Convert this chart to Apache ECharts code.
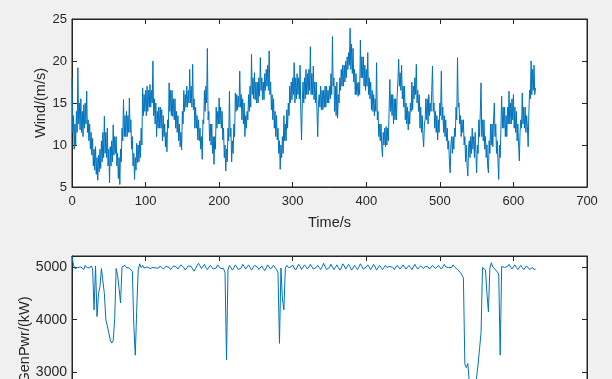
<!DOCTYPE html>
<html>
<head>
<meta charset="utf-8">
<script src="https://cdn.jsdelivr.net/npm/echarts@6/dist/echarts.min.js"></script>
<style>
  html, body { margin: 0; padding: 0; background: #f0f0f0; }
  #main { width: 612px; height: 379px; }
</style>
</head>
<body>
<div id="main"></div>
<script>
// wind speed, one value per second from t = 0
var windStep = 1;
var wind = [
  18.0, 11.5, 13.5, 9.5, 12.5, 10.0, 14.0, 11.5, 19.2, 12.5,
  15.0, 11.8, 15.5, 11.5, 14.0, 11.0, 14.8, 12.0, 15.0, 12.5,
  16.4, 11.5, 13.0, 10.5, 12.5, 9.5, 11.5, 8.8, 10.8, 7.5,
  9.5, 7.0, 9.8, 6.5, 8.5, 5.8, 8.8, 6.8, 9.5, 7.2,
  10.5, 8.0, 11.5, 8.5, 13.4, 9.0, 11.5, 8.5, 12.0, 7.5,
  9.5, 5.5, 9.8, 7.5, 10.5, 8.0, 12.4, 8.8, 11.0, 9.0,
  11.0, 7.5, 9.0, 6.0, 8.5, 5.3, 9.5, 8.0, 12.0, 10.5,
  15.4, 11.0, 13.5, 11.0, 14.0, 11.0, 13.5, 11.5, 15.6, 11.5,
  13.0, 9.5, 11.0, 7.5, 9.0, 5.9, 8.5, 7.0, 10.2, 7.9,
  10.0, 8.0, 10.5, 8.5, 12.0, 10.0, 16.8, 13.5, 16.0, 14.0,
  16.5, 13.5, 17.0, 14.0, 16.5, 14.5, 17.2, 14.5, 16.5, 15.0,
  20.0, 13.5, 15.5, 12.5, 15.0, 11.0, 14.0, 12.0, 14.5, 12.0,
  14.5, 12.0, 14.2, 10.5, 13.5, 11.0, 12.5, 9.8, 11.5, 9.2,
  13.0, 12.0, 17.4, 14.0, 16.5, 13.5, 16.5, 13.4, 15.5, 13.0,
  15.5, 12.0, 14.0, 11.5, 13.5, 10.5, 12.5, 9.8, 11.5, 9.4,
  14.0, 12.5, 16.5, 14.0, 16.0, 14.5, 17.0, 14.5, 16.5, 15.0,
  19.0, 15.0, 17.0, 14.5, 19.6, 14.2, 15.5, 12.0, 14.5, 12.0,
  13.5, 10.6, 13.0, 10.5, 12.0, 9.5, 11.0, 8.3, 13.0, 12.5,
  16.5, 14.0, 17.0, 15.0, 21.5, 13.0, 14.0, 10.5, 12.5, 10.0,
  12.5, 9.0, 11.0, 7.7, 11.0, 9.5, 14.5, 12.0, 14.0, 12.5,
  15.6, 12.5, 14.5, 12.0, 14.0, 10.6, 12.0, 8.5, 10.0, 6.9,
  9.5, 8.0, 12.0, 10.5, 16.4, 11.0, 12.0, 8.0, 10.5, 9.0,
  12.5, 11.0, 16.2, 14.0, 16.0, 14.2, 15.8, 14.5, 18.8, 14.5,
  16.0, 13.0, 15.5, 12.5, 15.0, 11.0, 13.5, 12.0, 14.0, 13.0,
  16.0, 14.0, 17.0, 14.5, 20.8, 16.0, 18.0, 15.5, 18.6, 15.4,
  17.5, 15.0, 17.5, 15.0, 18.0, 15.8, 20.4, 16.5, 18.0, 15.4,
  17.5, 15.4, 18.5, 16.5, 19.0, 17.0, 19.5, 16.5, 21.2, 16.0,
  17.5, 14.2, 16.0, 13.0, 15.5, 12.0, 14.0, 11.0, 13.5, 10.6,
  12.0, 9.0, 10.5, 7.1, 10.0, 8.5, 11.0, 9.0, 13.5, 10.5,
  12.5, 10.5, 14.2, 12.0, 15.0, 13.5, 17.0, 15.0, 17.5, 15.4,
  18.0, 16.0, 19.8, 15.0, 18.0, 15.5, 18.5, 16.0, 18.0, 15.5,
  19.5, 14.0, 10.6, 15.0, 17.5, 15.0, 18.0, 15.5, 19.0, 16.0,
  18.5, 16.0, 19.0, 16.5, 21.7, 16.0, 18.5, 16.0, 19.4, 15.4,
  17.5, 15.0, 17.5, 14.0, 11.0, 15.0, 16.0, 14.5, 17.0, 14.2,
  16.5, 14.2, 16.5, 14.5, 17.0, 14.5, 17.0, 15.0, 16.5, 15.0,
  17.0, 15.5, 18.5, 16.0, 22.9, 17.0, 18.0, 14.0, 17.0, 13.5,
  17.5, 13.2, 16.0, 15.0, 18.0, 16.5, 19.0, 17.0, 19.5, 17.0,
  19.5, 17.5, 20.0, 18.0, 20.5, 19.0, 21.0, 19.5, 23.9, 19.0,
  22.0, 18.5, 21.5, 17.5, 19.0, 16.0, 18.5, 16.0, 17.4, 15.8,
  17.5, 16.0, 22.5, 18.0, 20.5, 18.0, 20.5, 17.0, 19.5, 16.5,
  19.0, 17.0, 21.0, 16.0, 18.0, 15.5, 17.5, 14.2, 16.5, 14.0,
  16.0, 13.5, 15.5, 14.0, 19.8, 13.0, 14.0, 11.0, 12.5, 10.5,
  12.5, 9.8, 8.6, 11.5, 10.0, 12.0, 9.8, 12.2, 10.0, 12.0,
  10.5, 14.0, 17.8, 14.0, 16.0, 13.5, 16.0, 12.5, 15.5, 13.0,
  15.5, 13.0, 16.0, 17.5, 20.2, 17.0, 18.6, 16.5, 19.5, 15.5,
  17.0, 14.5, 17.0, 13.0, 15.0, 12.5, 14.5, 11.8, 14.0, 12.5,
  15.0, 14.0, 17.5, 14.2, 17.0, 15.5, 18.0, 16.0, 19.6, 15.0,
  16.5, 14.0, 16.0, 12.0, 14.5, 11.5, 13.5, 11.0, 9.8, 12.5,
  13.0, 15.5, 13.0, 15.5, 12.5, 16.0, 13.5, 15.0, 14.0, 16.5,
  19.4, 14.0, 15.0, 12.0, 14.0, 11.5, 13.5, 10.6, 13.0, 11.5,
  15.0, 13.5, 18.8, 13.0, 14.5, 11.5, 13.5, 11.0, 13.0, 10.5,
  12.0, 9.5, 10.5, 8.0, 6.7, 10.0, 11.0, 9.0, 11.0, 9.5,
  12.0, 11.0, 14.5, 13.0, 20.4, 14.5, 15.0, 12.5, 13.5, 11.0,
  13.0, 11.5, 13.0, 10.0, 11.0, 8.0, 10.0, 7.5, 6.3, 9.5,
  10.5, 8.5, 11.0, 9.0, 12.0, 9.5, 11.0, 8.5, 11.5, 9.0,
  6.7, 10.0, 9.0, 13.0, 11.0, 14.0, 17.4, 11.0, 13.0, 10.5,
  13.0, 9.5, 11.0, 8.5, 10.0, 7.5, 6.7, 10.5, 9.0, 12.5,
  10.0, 12.5, 9.8, 13.0, 15.0, 11.0, 12.5, 9.0, 10.5, 8.0,
  5.9, 10.0, 8.5, 12.0, 15.8, 12.0, 14.5, 12.0, 14.5, 11.0,
  13.5, 11.0, 14.5, 12.5, 16.4, 12.5, 15.0, 12.5, 15.5, 13.0,
  16.0, 12.0, 14.5, 11.5, 14.0, 10.5, 12.5, 10.0, 8.1, 11.5,
  13.0, 12.0, 16.2, 12.5, 14.5, 12.0, 14.5, 11.5, 13.5, 12.2,
  9.8, 14.0, 16.5, 15.5, 20.0, 16.0, 19.0, 16.5, 19.5, 16.0,
  16.8
];

// generator power, one value every 2 s from t = 0
var powerStep = 2;
var power = [
  5210, 5050, 4980, 4960, 5000, 4970, 5010, 4990, 4960, 5040,
  5000, 4970, 4990, 5030, 4980, 4190, 5030, 4060, 4500, 4640,
  4980, 4990, 4500, 4000, 3880, 3750, 3610, 3550, 3600, 4000,
  4980, 4850, 4600, 4320, 5010, 5030, 5040, 5000, 4980, 4990,
  4960, 4920, 3900, 3320, 4200, 4950, 5070, 5000, 5040, 4990,
  4960, 5010, 5030, 4980, 4970, 5000, 5020, 4990, 4960, 4990,
  5030, 5010, 4970, 4980, 5020, 5040, 5000, 4960, 4980, 5030,
  5060, 5010, 4970, 4990, 5050, 5070, 5000, 4950, 4980, 5030,
  5060, 5020, 4970, 4930, 4980, 5040, 5080, 5030, 4980, 5010,
  5060, 5000, 4960, 4990, 5040, 5020, 4970, 4940, 4990, 5050,
  5020, 4980, 5000, 4980, 4900, 3230, 4950, 5040, 5000, 4950,
  4990, 5050, 5010, 4960, 4940, 4990, 5060, 5020, 4970, 5000,
  5050, 5000, 4950, 4980, 5040, 5070, 5010, 4960, 4990, 5030,
  4980, 4940, 4990, 5050, 5020, 4970, 4990, 5040, 5000, 4960,
  4900, 3545, 4990, 4400, 4190, 4990, 5040, 5000, 4970, 5010,
  5050, 4990, 4950, 5000, 5060, 5020, 4960, 4990, 5050, 5010,
  4970, 5000, 5060, 5030, 4970, 4950, 5000, 5040, 5000, 4960,
  5010, 5080, 5020, 4960, 4940, 5000, 5060, 5010, 4960, 5000,
  5050, 5000, 4950, 4990, 5070, 5030, 4970, 5000, 5060, 5010,
  4950, 4990, 5040, 5000, 4960, 5010, 5070, 5020, 4970, 4950,
  5010, 5050, 5010, 4960, 4990, 5060, 5010, 4950, 4980, 5040,
  5000, 4960, 5000, 5040, 5000, 4970, 5020, 5050, 5000, 4960,
  4990, 5040, 5010, 4970, 5000, 5050, 5020, 4970, 4990, 5040,
  5000, 4960, 5010, 5060, 5010, 4970, 5000, 5030, 5000, 4980,
  5020, 5050, 5010, 4970, 4990, 5040, 5010, 4980, 5000, 5040,
  5010, 4970, 5010, 5060, 5010, 4980, 5000, 5030, 5000, 5050,
  5010, 4990, 4960, 4940, 4900, 4850, 4800, 3150, 3080, 3160,
  2800, 2650, 2600, 2620, 2700, 2900, 3150, 3450, 3750, 5000,
  5030, 4950, 4500, 4150, 4990, 5090, 5010, 4980, 4950, 4930,
  4880, 3320, 5020, 4990, 5000, 4970, 5020, 5060, 5010, 4970,
  4990, 5050, 5000, 4960, 4990, 5040, 5000, 4960, 4980, 5030,
  5010, 4960, 4990, 5000, 4960, 4970
];

var axisColor = "#262626";
var font = "Liberation Sans, Arial, Helvetica, sans-serif";

function plain(v) {
  return String(v);
}

function xAx(grid, pos, labels, name) {
  return {
    type: "value",
    gridIndex: grid,
    position: pos,
    min: 0,
    max: 700,
    interval: 100,
    name: name || "",
    nameLocation: "middle",
    nameGap: 28,
    nameMoveOverlap: false,
    nameTextStyle: { color: axisColor, fontSize: 14.5, fontFamily: font },
    axisLine: { show: true, onZero: false, lineStyle: { color: axisColor, width: 1 } },
    axisTick: { show: true, inside: true, length: 5, lineStyle: { color: axisColor } },
    axisLabel: { show: labels, color: axisColor, fontSize: 13, fontFamily: font, margin: 8, formatter: plain },
    splitLine: { show: false }
  };
}

function yAx(grid, pos, labels, min, max, step, name, size, gap) {
  return {
    type: "value",
    gridIndex: grid,
    position: pos,
    min: min,
    max: max,
    interval: step,
    name: name || "",
    nameLocation: "middle",
    nameGap: gap || 0,
    nameMoveOverlap: false,
    nameTextStyle: { color: axisColor, fontSize: 14.5, fontFamily: font },
    axisLine: { show: true, onZero: false, lineStyle: { color: axisColor, width: 1 } },
    axisTick: { show: true, inside: true, length: 5, lineStyle: { color: axisColor } },
    axisLabel: { show: labels, color: axisColor, fontSize: size || 13, fontFamily: font, margin: 5,
      showMaxLabel: max % step === 0, formatter: plain },
    splitLine: { show: false }
  };
}

var mychart = echarts.init(document.getElementById("main"));
var option = {
  backgroundColor: "#f0f0f0",
  animation: false,
  grid: [
    { left: 72, right: 25, top: 19, height: 168, show: true, backgroundColor: "#ffffff",
      borderColor: axisColor, borderWidth: 1, outerBoundsMode: "none", containLabel: false },
    { left: 72, right: 25, top: 256, height: 168, show: true, backgroundColor: "#ffffff",
      borderColor: axisColor, borderWidth: 1, outerBoundsMode: "none", containLabel: false }
  ],
  xAxis: [
    xAx(0, "bottom", true, "Time/s"),
    xAx(0, "top", false),
    xAx(1, "bottom", true),
    xAx(1, "top", false)
  ],
  yAxis: [
    yAx(0, "left", true, 5, 25, 5, "Wind/(m/s)", 13, 24),
    yAx(0, "right", false, 5, 25, 5),
    yAx(1, "left", true, 2000, 5220, 1000, "GenPwr/(kW)", 14, 40),
    yAx(1, "right", false, 2000, 5220, 1000)
  ],
  series: [
    {
      type: "line",
      xAxisIndex: 0,
      yAxisIndex: 0,
      showSymbol: false,
      sampling: null,
      lineStyle: { color: "#0072BD", width: 1 },
      data: wind.map(function(v, i) { return [i * windStep, v]; })
    },
    {
      type: "line",
      xAxisIndex: 2,
      yAxisIndex: 2,
      showSymbol: false,
      lineStyle: { color: "#0072BD", width: 1 },
      data: power.map(function(v, i) { return [i * powerStep, v]; })
    }
  ]
};
mychart.setOption(option, true);
</script>
</body>
</html>
